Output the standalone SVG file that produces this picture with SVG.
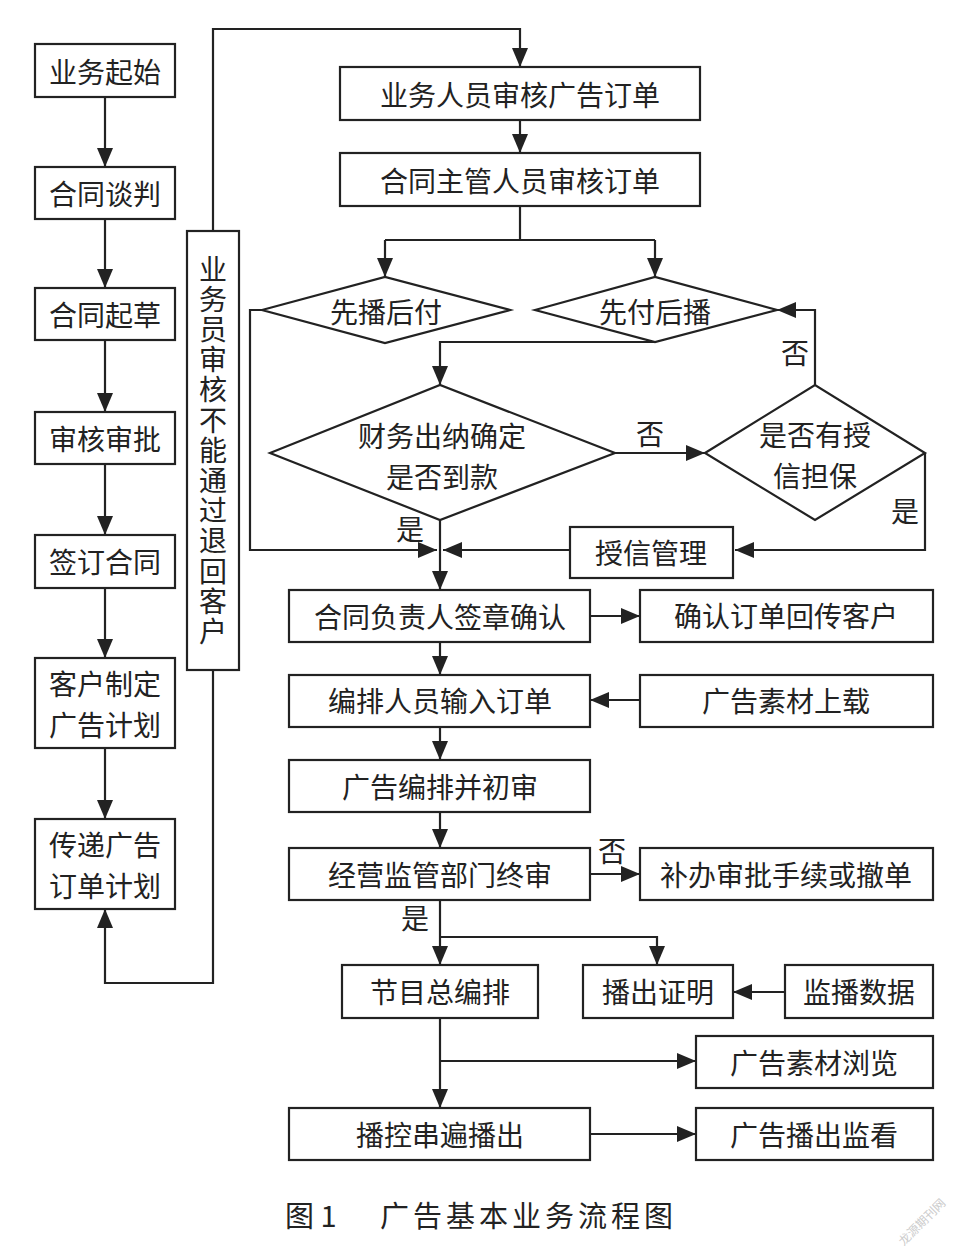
<svg xmlns="http://www.w3.org/2000/svg" width="966" height="1255" viewBox="0 0 966 1255">
<style>
.b{fill:#fff;stroke:#222;stroke-width:2.2}
.t{font-family:"Noto Sans CJK SC","Noto Sans",sans-serif;font-size:28px;fill:#222;text-anchor:middle;dominant-baseline:central}
.v{font-family:"Noto Sans CJK SC","Noto Sans",sans-serif;font-size:28px;fill:#222;writing-mode:vertical-rl;letter-spacing:2.2px}
.l{fill:none;stroke:#222;stroke-width:2.2}
.cap{font-family:"Noto Sans CJK SC",serif;font-size:29px;fill:#222;dominant-baseline:central}
</style>
<defs>
<marker id="a" markerUnits="userSpaceOnUse" markerWidth="20" markerHeight="16" refX="19" refY="8" orient="auto">
<path d="M0,0 L19,8 L0,16 z" fill="#222"/>
</marker>
</defs>
<rect width="966" height="1255" fill="#fff"/>
<g id="connectors">
<path class="l" d="M105,97 V167" marker-end="url(#a)"/>
<path class="l" d="M105,219 V288" marker-end="url(#a)"/>
<path class="l" d="M105,340 V412" marker-end="url(#a)"/>
<path class="l" d="M105,464 V535" marker-end="url(#a)"/>
<path class="l" d="M105,588 V658" marker-end="url(#a)"/>
<path class="l" d="M105,748 V819" marker-end="url(#a)"/>
<path class="l" d="M213,670 V983 H105 V909" marker-end="url(#a)"/>
<path class="l" d="M213,231 V29 H520 V67" marker-end="url(#a)"/>
<path class="l" d="M520,120 V153" marker-end="url(#a)"/>
<path class="l" d="M520,206 V240"/>
<path class="l" d="M385,240 H655"/>
<path class="l" d="M385,240 V277" marker-end="url(#a)"/>
<path class="l" d="M655,240 V277" marker-end="url(#a)"/>
<path class="l" d="M655,342 H440 V385" marker-end="url(#a)"/>
<path class="l" d="M615,453 H705" marker-end="url(#a)"/>
<path class="l" d="M815,385 V310 H777" marker-end="url(#a)"/>
<path class="l" d="M925,453 V550 H735" marker-end="url(#a)"/>
<path class="l" d="M570,550 H443" marker-end="url(#a)"/>
<path class="l" d="M262,310 H250 V550 H437" marker-end="url(#a)"/>
<path class="l" d="M440,520 V590" marker-end="url(#a)"/>
<path class="l" d="M590,616 H640" marker-end="url(#a)"/>
<path class="l" d="M440,642 V675" marker-end="url(#a)"/>
<path class="l" d="M640,700 H590" marker-end="url(#a)"/>
<path class="l" d="M440,727 V760" marker-end="url(#a)"/>
<path class="l" d="M440,812 V848" marker-end="url(#a)"/>
<path class="l" d="M590,874 H640" marker-end="url(#a)"/>
<path class="l" d="M440,900 V965" marker-end="url(#a)"/>
<path class="l" d="M440,937 H657 V965" marker-end="url(#a)"/>
<path class="l" d="M785,992 H733" marker-end="url(#a)"/>
<path class="l" d="M440,1018 V1108" marker-end="url(#a)"/>
<path class="l" d="M440,1061 H696" marker-end="url(#a)"/>
<path class="l" d="M590,1134 H696" marker-end="url(#a)"/>
<text class="t" x="650" y="433">否</text>
<text class="t" x="795" y="352">否</text>
<text class="t" x="905" y="510">是</text>
<text class="t" x="410" y="528">是</text>
<text class="t" x="612" y="850">否</text>
<text class="t" x="415" y="917">是</text>
</g>
<g id="n1"><rect class="b" x="35" y="44" width="140" height="53"/><text class="t" x="105" y="71">业务起始</text></g>
<g id="n2"><rect class="b" x="35" y="167" width="140" height="52"/><text class="t" x="105" y="193">合同谈判</text></g>
<g id="n3"><rect class="b" x="35" y="288" width="140" height="52"/><text class="t" x="105" y="314">合同起草</text></g>
<g id="n4"><rect class="b" x="35" y="412" width="140" height="52"/><text class="t" x="105" y="438">审核审批</text></g>
<g id="n5"><rect class="b" x="35" y="535" width="140" height="53"/><text class="t" x="105" y="561">签订合同</text></g>
<g id="n6"><rect class="b" x="35" y="658" width="140" height="90"/><text class="t" x="105" y="683">客户制定</text><text class="t" x="105" y="724">广告计划</text></g>
<g id="n7"><rect class="b" x="35" y="819" width="140" height="90"/><text class="t" x="105" y="844">传递广告</text><text class="t" x="105" y="885">订单计划</text></g>
<g id="n8"><rect class="b" x="187" y="231" width="52" height="439"/>
<text class="v" x="213" y="255">业务员审核不能通过退回客户</text></g>
<g id="n9"><rect class="b" x="340" y="67" width="360" height="53"/><text class="t" x="520" y="94">业务人员审核广告订单</text></g>
<g id="n10"><rect class="b" x="340" y="153" width="360" height="53"/><text class="t" x="520" y="180">合同主管人员审核订单</text></g>
<g id="n11"><polygon class="b" points="262,310 385,277 510,310 385,343"/><text class="t" x="386" y="311">先播后付</text></g>
<g id="n12"><polygon class="b" points="535,310 655,277 777,310 655,342"/><text class="t" x="655" y="311">先付后播</text></g>
<g id="n13"><polygon class="b" points="270,453 440,385 615,453 440,520"/><text class="t" x="442" y="435">财务出纳确定</text><text class="t" x="442" y="476">是否到款</text></g>
<g id="n14"><polygon class="b" points="705,453 815,385 925,453 815,520"/><text class="t" x="815" y="434">是否有授</text><text class="t" x="815" y="475">信担保</text></g>
<g id="n15"><rect class="b" x="570" y="527" width="163" height="51"/><text class="t" x="651" y="552">授信管理</text></g>
<g id="n16"><rect class="b" x="289" y="590" width="301" height="52"/><text class="t" x="440" y="616">合同负责人签章确认</text></g>
<g id="n17"><rect class="b" x="640" y="590" width="293" height="52"/><text class="t" x="786" y="615">确认订单回传客户</text></g>
<g id="n18"><rect class="b" x="289" y="675" width="301" height="52"/><text class="t" x="440" y="700">编排人员输入订单</text></g>
<g id="n19"><rect class="b" x="640" y="675" width="293" height="52"/><text class="t" x="786" y="700">广告素材上载</text></g>
<g id="n20"><rect class="b" x="289" y="760" width="301" height="52"/><text class="t" x="440" y="786">广告编排并初审</text></g>
<g id="n21"><rect class="b" x="289" y="848" width="301" height="52"/><text class="t" x="440" y="874">经营监管部门终审</text></g>
<g id="n22"><rect class="b" x="640" y="848" width="293" height="52"/><text class="t" x="786" y="874">补办审批手续或撤单</text></g>
<g id="n23"><rect class="b" x="342" y="965" width="196" height="53"/><text class="t" x="440" y="991">节目总编排</text></g>
<g id="n24"><rect class="b" x="583" y="965" width="150" height="53"/><text class="t" x="658" y="991">播出证明</text></g>
<g id="n25"><rect class="b" x="785" y="965" width="148" height="53"/><text class="t" x="859" y="991">监播数据</text></g>
<g id="n26"><rect class="b" x="696" y="1036" width="237" height="52"/><text class="t" x="814" y="1062">广告素材浏览</text></g>
<g id="n27"><rect class="b" x="289" y="1108" width="301" height="52"/><text class="t" x="440" y="1134">播控串遍播出</text></g>
<g id="n28"><rect class="b" x="696" y="1108" width="237" height="52"/><text class="t" x="814" y="1134">广告播出监看</text></g>
<text class="cap" x="285" y="1214">图 1</text>
<text class="cap" x="380" y="1214" letter-spacing="4">广告基本业务流程图</text>
<text x="925" y="1225" transform="rotate(-45 925 1225)" font-family="Noto Sans CJK SC,sans-serif" font-size="12" fill="#ccc" text-anchor="middle">龙源期刊网</text>
</svg>
